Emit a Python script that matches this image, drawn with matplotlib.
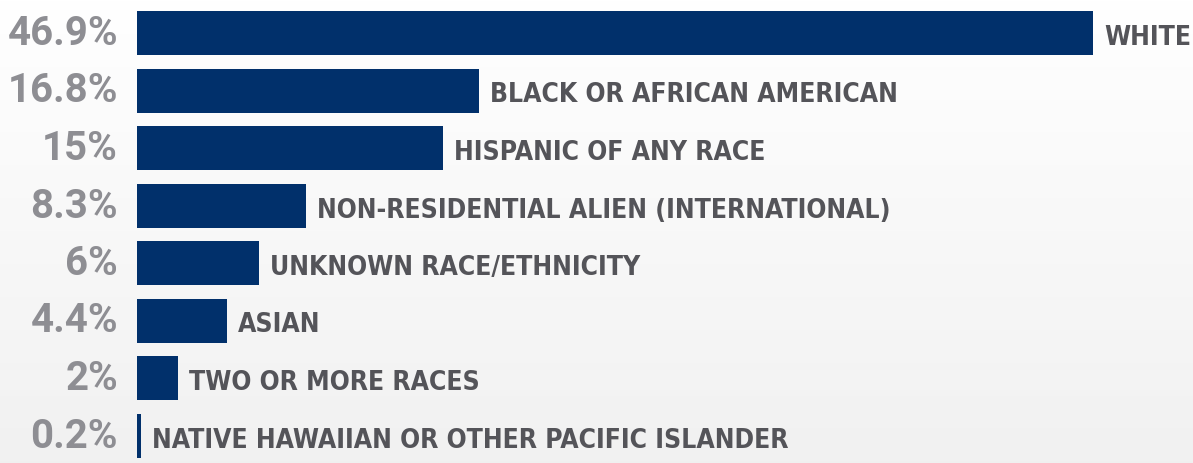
import matplotlib
matplotlib.use("Agg")
import matplotlib.pyplot as plt
import numpy as np

# data
categories = ["WHITE", "BLACK OR AFRICAN AMERICAN", "HISPANIC OF ANY RACE",
              "NON-RESIDENTIAL ALIEN (INTERNATIONAL)", "UNKNOWN RACE/ETHNICITY",
              "ASIAN", "TWO OR MORE RACES",
              "NATIVE HAWAIIAN OR OTHER PACIFIC ISLANDER"]
values = [46.9, 16.8, 15, 8.3, 6, 4.4, 2, 0.2]
value_labels = ["46.9%", "16.8%", "15%", "8.3%", "6%", "4.4%", "2%", "0.2%"]

bar_color = "#01306b"
label_color = "#545459"
value_color = "#8e8e93"

W, H = 1193, 463
fig = plt.figure(figsize=(W / 100, H / 100), dpi=100)

# soft white-to-grey background
bg = fig.add_axes([0, 0, 1, 1], zorder=0)
grad = np.linspace(1.0, 0.945, 256).reshape(-1, 1)
bg.imshow(np.dstack([grad, grad, grad]), aspect="auto", extent=[0, 1, 0, 1])
bg.axis("off")

left = 137 / W
ax = fig.add_axes([left, 0, 1 - left, 1], zorder=1)
ax.patch.set_alpha(0)
ax.axis("off")

pitch = 57.5
y = np.arange(len(values))
ax.barh(y, values, height=44 / pitch, color=bar_color)
ax.set_xlim(0, 46.9 * (W - 137) / (1093 - 137))
ax.set_ylim((H - 33) / pitch, -33 / pitch)

for yi, v, cat, vl in zip(y, values, categories, value_labels):
    ax.annotate(cat, (v, yi), xytext=(11, -5), textcoords="offset pixels",
                ha="left", va="center", fontsize=19, fontweight="bold",
                fontstretch="condensed", color=label_color, family="DejaVu Sans",
                annotation_clip=False)
    ax.annotate(vl, (0, yi), xytext=(-19, -1), textcoords="offset pixels",
                ha="right", va="center", fontsize=29, fontweight="bold",
                color=value_color, family=["Roboto", "DejaVu Sans"],
                annotation_clip=False)

fig.savefig("out.png", dpi=100)
